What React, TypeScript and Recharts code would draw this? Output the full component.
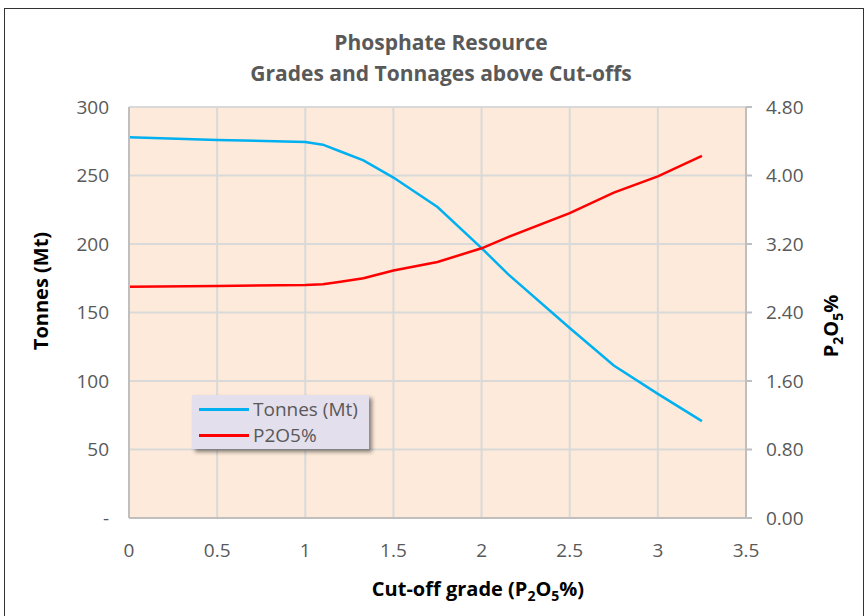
import React from "react";
import {
  LineChart,
  Line,
  XAxis,
  YAxis,
  CartesianGrid,
} from "recharts";

// cut-off grades (P2O5 %)
const cutoffs = [0, 0.5, 1, 1.1, 1.2, 1.33, 1.5, 1.75, 2, 2.15, 2.5, 2.75, 3, 3.25];
// tonnes above cut-off (Mt)
const tonnes = [278, 276, 274.5, 272.5, 267.5, 261, 248.5, 227, 197, 178, 138.7, 111.3, 90.6, 70.7];
// average grade above cut-off (P2O5 %)
const grades = [2.7, 2.71, 2.72, 2.73, 2.76, 2.8, 2.89, 2.99, 3.15, 3.28, 3.56, 3.8, 3.99, 4.23];

const xTicks = [0, 0.5, 1, 1.5, 2, 2.5, 3, 3.5];
const leftTicks = [0, 50, 100, 150, 200, 250, 300];
const rightTicks = [0, 0.8, 1.6, 2.4, 3.2, 4.0, 4.8];

const seriesNames = ["Tonnes (Mt)", "P2O5%"];
const seriesColors = ["#00B0F0", "#FF0000"];

const data = cutoffs.map((c, i) => ({ cutoff: c, tonnes: tonnes[i], grade: grades[i] }));

const FONT = "'Open Sans', sans-serif";
const GREY = "#595959";

const titleStyle: React.CSSProperties = {
  position: "absolute",
  whiteSpace: "nowrap",
  fontFamily: FONT,
  fontWeight: 700,
  fontSize: 20,
  color: "#000",
};
const subStyle: React.CSSProperties = { fontSize: 14 };

// legend box sits inside the plot area, like the Excel original
const LegendBox = () => (
  <div
    style={{
      position: "absolute",
      left: 192,
      top: 395,
      width: 177,
      height: 54,
      background: "#E4DFEC",
      boxShadow: "3px 3px 4px rgba(0,0,0,0.45)",
      fontFamily: FONT,
      fontSize: 19,
      color: GREY,
      boxSizing: "border-box",
      paddingTop: 1,
    }}
  >
    {seriesNames.map((name, i) => (
      <div key={name} style={{ display: "flex", alignItems: "center", height: 26 }}>
        <div style={{ width: 50, height: 3, background: seriesColors[i], marginLeft: 7, marginRight: 4 }} />
        <span>{name}</span>
      </div>
    ))}
  </div>
);

const App: React.FC = () => (
  <div style={{ position: "absolute", left: 0, top: 0, width: 868, height: 616, overflow: "hidden", background: "#fff" }}>
    <div
      style={{
        position: "absolute",
        left: 4,
        top: 8,
        width: 860,
        height: 640,
        border: "1.5px solid #333",
        boxSizing: "border-box",
      }}
    />
    <div
      style={{
        position: "absolute",
        left: 0,
        width: 882,
        top: 27,
        textAlign: "center",
        fontFamily: FONT,
        fontWeight: 700,
        fontSize: 21,
        lineHeight: "31px",
        color: GREY,
      }}
    >
      <div>Phosphate Resource</div>
      <div>Grades and Tonnages above Cut-offs</div>
    </div>
    <div style={{ position: "absolute", left: 0, top: 0 }}>
      <LineChart
        width={868}
        height={616}
        data={data}
        margin={{ top: 107, right: 0, bottom: 0, left: 0 }}
        style={{ fontFamily: FONT }}
      >
        <CartesianGrid
          xAxisId="x"
          yAxisId="left"
          fill="#FDEADA"
          stroke="#D9D9D9"
          strokeWidth={2}
        />
        <XAxis
          xAxisId="x"
          dataKey="cutoff"
          type="number"
          domain={[0, 3.5]}
          ticks={xTicks}
          interval={0}
          axisLine={{ stroke: "#BFBFBF", strokeWidth: 2 }}
          tickLine={false}
          tickMargin={20}
          tick={{ fill: GREY, fontSize: 19 }}
          height={98}
        />
        <YAxis
          yAxisId="left"
          orientation="left"
          width={129}
          domain={[0, 300]}
          ticks={leftTicks}
          interval={0}
          tickFormatter={(v: number) => (v === 0 ? "-" : String(v))}
          axisLine={{ stroke: "#BFBFBF", strokeWidth: 2 }}
          tickLine={false}
          tickMargin={14}
          tick={{ fill: GREY, fontSize: 19 }}
        />
        <YAxis
          yAxisId="right"
          orientation="right"
          width={122}
          domain={[0, 4.8]}
          ticks={rightTicks}
          interval={0}
          tickFormatter={(v: number) => v.toFixed(2)}
          axisLine={{ stroke: "#BFBFBF", strokeWidth: 2 }}
          tickLine={{ stroke: "#BFBFBF", strokeWidth: 2 }}
          tickSize={6}
          tickMargin={14}
          tick={{ fill: GREY, fontSize: 19, textAnchor: "start" }}
        />
        <Line
          xAxisId="x"
          yAxisId="left"
          type="linear"
          dataKey="tonnes"
          name={seriesNames[0]}
          stroke={seriesColors[0]}
          strokeWidth={2.5}
          dot={false}
          isAnimationActive={false}
        />
        <Line
          xAxisId="x"
          yAxisId="right"
          type="linear"
          dataKey="grade"
          name={seriesNames[1]}
          stroke={seriesColors[1]}
          strokeWidth={2.5}
          dot={false}
          isAnimationActive={false}
        />
      </LineChart>
    </div>
    <LegendBox />
    {/* axis titles */}
    <div style={{ ...titleStyle, left: 40, top: 291, transform: "translate(-50%, -50%) rotate(-90deg)" }}>
      Tonnes (Mt)
    </div>
    <div style={{ ...titleStyle, left: 832, top: 326, transform: "translate(-50%, -50%) rotate(-90deg)" }}>
      P<sub style={subStyle}>2</sub>O<sub style={subStyle}>5</sub>%
    </div>
    <div style={{ ...titleStyle, left: 478, top: 590, transform: "translate(-50%, -50%)" }}>
      Cut-off grade (P<sub style={subStyle}>2</sub>O<sub style={subStyle}>5</sub>%)
    </div>
  </div>
);

export default App;
